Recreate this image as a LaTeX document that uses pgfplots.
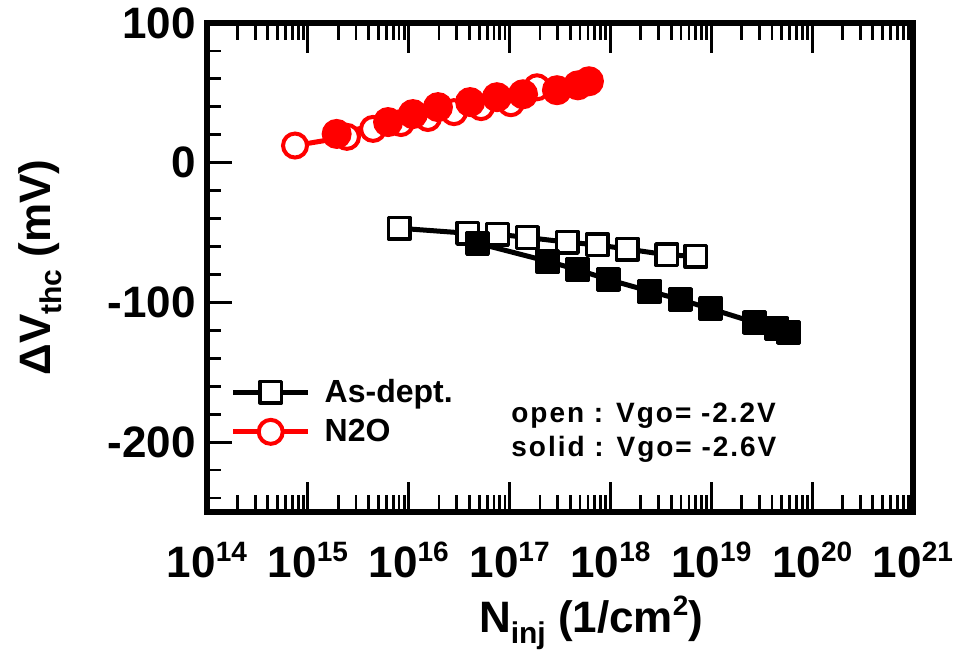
\documentclass[border=0pt]{standalone}
\usepackage{fontspec}
\setmainfont{Liberation Sans}
\usepackage{pgfplots}
\pgfplotsset{compat=1.18}
\newcommand{\tp}[1]{10\raisebox{0.36em}{\fontsize{14}{14}\selectfont #1}}
\begin{document}
\begin{tikzpicture}
\useasboundingbox (-103.5pt,-76pt) rectangle (375pt,256pt);
\begin{axis}[
  at={(0,0)}, anchor=south west,
  scale only axis, width=353pt, height=244.5pt,
  xmode=log, xmin=1e14, xmax=1e21, ymin=-250, ymax=100,
  axis line style={line width=3pt},
  tick style={draw=none},
  xtick={1e14,1e15,1e16,1e17,1e18,1e19,1e20,1e21},
  xticklabels={\tp{14},\tp{15},\tp{16},\tp{17},\tp{18},\tp{19},\tp{20},\tp{21}},
  ytick={-200,-100,0,100},
  yticklabels={-200,-100,0,100},
  minor tick num=0,
  xticklabel style={font=\fontsize{22}{22}\selectfont\bfseries, inner sep=0pt, anchor=north, yshift=-15pt},
  yticklabel style={font=\fontsize{22}{22}\selectfont\bfseries, inner sep=0pt, anchor=east, xshift=-5.5pt},
  xlabel={N\raisebox{-0.25em}{\fontsize{15}{15}\selectfont inj} (1/cm\raisebox{0.4em}{\fontsize{14}{14}\selectfont 2})},
  ylabel={ΔV\raisebox{-0.25em}{\fontsize{15}{15}\selectfont thc} (mV)},
  xlabel style={font=\fontsize{22}{22}\selectfont\bfseries, at={(axis description cs:0.544,-0.247)}, anchor=base},
  ylabel style={font=\fontsize{22}{22}\selectfont\bfseries, at={(axis description cs:-0.2365,0.5)}, anchor=center},
  legend style={draw=none, fill=none, inner sep=0pt, font=\fontsize{16}{16}\selectfont\bfseries,
    at={(axis description cs:0.033,0.205)}, anchor=west, row sep=3pt,
    /tikz/every even column/.append style={column sep=12pt}},
  legend cell align=left,
  legend image code/.code={\draw[mark repeat=2,mark phase=2,#1] plot coordinates {(0pt,0pt)(18.75pt,0pt)(37.5pt,0pt)};},
  clip=false,
]
% As-dept., open (Vgo=-2.2V)
\addplot[black, line width=2.5pt, mark=square*, mark size=5.4pt,
  mark options={fill=white, line width=1.7pt, line join=round}] coordinates {
  (8.07e15,-46.9) (3.85e16,-50.5) (7.6e16,-51.2) (1.5e17,-53.5) (3.73e17,-56.9)
  (7.4e17,-58.8) (1.47e18,-61.8) (3.61e18,-65.9) (7.05e18,-67.0)};
\addlegendentry{\hspace{5pt}As-dept.}
% N2O, open
\addplot[red, line width=2.5pt, mark=*, mark size=6pt,
  mark options={fill=white, line width=2pt}] coordinates {
  (7.46e14,12.3) (2.44e15,18.5) (4.43e15,24.2) (8.37e15,28.4) (1.55e16,32.0)
  (2.81e16,36.2) (5.21e16,39.8) (1.03e17,42.6) (1.87e17,54.0)};
\addlegendentry{\hspace{5pt}N2O}
% As-dept., solid (Vgo=-2.6V)
\addplot[black, line width=2.5pt, mark=square*, mark size=5.4pt, forget plot,
  mark options={fill=black, line width=1.7pt, line join=round}] coordinates {
  (4.81e16,-57.6) (2.39e17,-70.6) (4.70e17,-76.5) (9.5e17,-83.6) (2.43e18,-91.9)
  (4.9e18,-97.9) (9.8e18,-104.5) (2.71e19,-114.4) (4.38e19,-118.7) (5.89e19,-121.5)};
% N2O, solid
\addplot[red, line width=2.5pt, mark=*, mark size=6.5pt, forget plot,
  mark options={fill=red, line width=2pt}] coordinates {
  (1.93e15,20.6) (6.24e15,29.1) (1.10e16,34.8) (1.95e16,39.8) (4.06e16,43.4)
  (7.50e16,46.9) (1.36e17,49.0) (2.95e17,51.9) (4.76e17,55.4) (6.12e17,58.3)};
% tick marks (inward)
\pgfplotsinvokeforeach{1e15,1e16,1e17,1e18,1e19,1e20}{
  \draw[line width=1.4pt] (axis cs:#1,-250) -- ++(0pt,15pt);
  \draw[line width=1.4pt] (axis cs:#1,100) -- ++(0pt,-15pt);
}
\pgfplotsinvokeforeach{2e14,3e14,4e14,5e14,6e14,7e14,8e14,9e14,
    2e15,3e15,4e15,5e15,6e15,7e15,8e15,9e15,
    2e16,3e16,4e16,5e16,6e16,7e16,8e16,9e16,
    2e17,3e17,4e17,5e17,6e17,7e17,8e17,9e17,
    2e18,3e18,4e18,5e18,6e18,7e18,8e18,9e18,
    2e19,3e19,4e19,5e19,6e19,7e19,8e19,9e19,
    2e20,3e20,4e20,5e20,6e20,7e20,8e20,9e20}{
  \draw[line width=1.4pt] (axis cs:#1,-250) -- ++(0pt,8.4pt);
  \draw[line width=1.4pt] (axis cs:#1,100) -- ++(0pt,-8.4pt);
}
\pgfplotsinvokeforeach{-200,-100,0}{
  \draw[line width=1.4pt] (axis cs:1e14,#1) -- ++(12.3pt,0pt);
}
\pgfplotsinvokeforeach{-240,-220,-180,-160,-140,-120,-80,-60,-40,-20,20,40,60,80}{
  \draw[line width=1.4pt] (axis cs:1e14,#1) -- ++(7pt,0pt);
}
\node[anchor=base west, font=\fontsize{14}{14}\selectfont\bfseries\addfontfeatures{LetterSpace=7}, inner sep=0pt]
  at (axis description cs:0.4306,0.184) {open : Vgo= -2.2V};
\node[anchor=base west, font=\fontsize{14}{14}\selectfont\bfseries\addfontfeatures{LetterSpace=7}, inner sep=0pt]
  at (axis description cs:0.4306,0.1145) {solid : Vgo= -2.6V};
\end{axis}
\end{tikzpicture}
\end{document}
